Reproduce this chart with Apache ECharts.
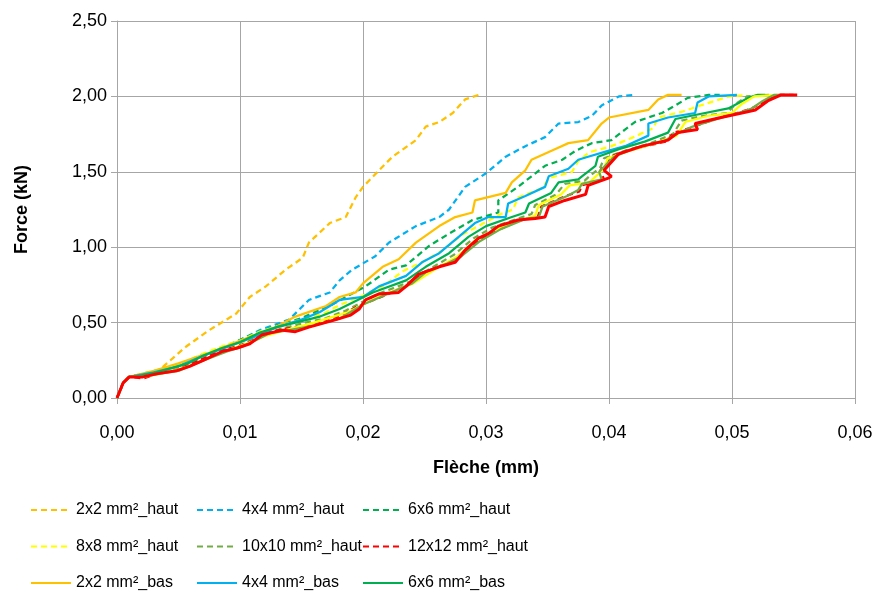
<!DOCTYPE html>
<html>
<head>
<meta charset="utf-8">
<script src="https://cdn.jsdelivr.net/npm/echarts@6/dist/echarts.min.js"></script>
<style>html,body{margin:0;padding:0;background:#fff;}#c{width:880px;height:596px;}</style>
</head>
<body>
<div id="c"></div>
<script>
// ---- data (Flèche mm, Force kN) ----
const xTicks = [0, 0.01, 0.02, 0.03, 0.04, 0.05, 0.06];
const yTicks = [0, 0.5, 1.0, 1.5, 2.0, 2.5];

const haut2x2 = [[0,0],[0.0005,0.10],[0.0010,0.14],[0.0035,0.19],[0.0056,0.34],[0.0075,0.45],[0.0097,0.56],[0.0108,0.67],[0.0121,0.74],[0.0137,0.85],[0.0151,0.93],[0.0156,1.03],[0.0173,1.16],[0.0186,1.20],[0.0194,1.33],[0.0200,1.40],[0.0213,1.51],[0.0224,1.60],[0.0243,1.71],[0.0251,1.80],[0.0262,1.83],[0.0273,1.89],[0.0283,1.98],[0.0294,2.01]];
const haut4x4 = [[0,0],[0.0005,0.10],[0.0010,0.14],[0.0035,0.18],[0.0062,0.25],[0.0089,0.34],[0.0116,0.45],[0.0140,0.52],[0.0156,0.65],[0.0173,0.70],[0.0181,0.78],[0.0191,0.85],[0.0210,0.94],[0.0221,1.03],[0.0243,1.14],[0.0262,1.20],[0.0270,1.25],[0.0283,1.40],[0.0300,1.49],[0.0316,1.60],[0.0332,1.67],[0.0348,1.73],[0.0359,1.82],[0.0375,1.83],[0.0386,1.87],[0.0394,1.94],[0.0408,2.00],[0.0420,2.01]];
const haut6x6 = [[0,0],[0.0005,0.10],[0.0010,0.14],[0.0030,0.17],[0.0050,0.22],[0.0070,0.29],[0.0090,0.35],[0.0110,0.42],[0.0130,0.48],[0.0150,0.53],[0.0175,0.62],[0.0202,0.74],[0.0221,0.85],[0.0235,0.88],[0.0254,1.01],[0.0270,1.09],[0.0289,1.18],[0.0310,1.23],[0.0310,1.31],[0.0326,1.40],[0.0337,1.47],[0.0348,1.54],[0.0362,1.58],[0.0373,1.64],[0.0386,1.69],[0.0402,1.71],[0.0413,1.78],[0.0421,1.83],[0.0443,1.89],[0.0454,1.94],[0.0464,1.99],[0.0481,2.01],[0.0490,2.01]];
const haut8x8 = [[0,0],[0.0005,0.10],[0.0010,0.14],[0.0020,0.15],[0.0033,0.18],[0.0046,0.21],[0.0058,0.25],[0.0072,0.30],[0.0088,0.35],[0.0100,0.38],[0.0116,0.44],[0.0132,0.48],[0.0150,0.52],[0.0168,0.56],[0.0182,0.62],[0.0200,0.68],[0.0218,0.75],[0.0232,0.84],[0.0248,0.90],[0.0265,0.98],[0.0280,1.08],[0.0296,1.15],[0.0312,1.22],[0.0322,1.25],[0.0326,1.33],[0.0345,1.39],[0.0352,1.46],[0.0370,1.50],[0.0375,1.57],[0.0384,1.63],[0.0402,1.67],[0.0420,1.73],[0.0436,1.79],[0.0440,1.86],[0.0460,1.90],[0.0478,1.95],[0.0498,2.00],[0.0512,2.01]];
const haut10x10 = [[0,0],[0.0005,0.10],[0.0010,0.14],[0.0021,0.14],[0.0034,0.17],[0.0048,0.19],[0.0060,0.23],[0.0073,0.27],[0.0089,0.32],[0.0103,0.36],[0.0118,0.42],[0.0134,0.46],[0.0153,0.50],[0.0170,0.53],[0.0186,0.58],[0.0212,0.69],[0.0238,0.77],[0.0255,0.86],[0.0274,0.95],[0.0290,1.06],[0.0305,1.13],[0.0326,1.19],[0.0337,1.22],[0.0340,1.28],[0.0357,1.35],[0.0364,1.42],[0.0380,1.44],[0.0384,1.47],[0.0393,1.53],[0.0396,1.59],[0.0413,1.64],[0.0434,1.69],[0.0452,1.75],[0.0459,1.84],[0.0476,1.87],[0.0496,1.89],[0.0503,1.95],[0.0512,2.00],[0.0530,2.01]];
const haut12x12 = [[0,0],[0.0005,0.10],[0.0010,0.14],[0.0022,0.13],[0.0032,0.16],[0.0047,0.18],[0.0058,0.22],[0.0070,0.26],[0.0085,0.32],[0.0098,0.34],[0.0110,0.38],[0.0120,0.43],[0.0137,0.46],[0.0158,0.48],[0.0178,0.53],[0.0196,0.61],[0.0218,0.68],[0.0236,0.75],[0.0248,0.83],[0.0264,0.88],[0.0277,0.92],[0.0290,1.02],[0.0306,1.10],[0.0328,1.18],[0.0342,1.20],[0.0345,1.27],[0.0365,1.34],[0.0376,1.37],[0.0378,1.41],[0.0396,1.45],[0.0393,1.51],[0.0404,1.61],[0.0424,1.66],[0.0446,1.70],[0.0453,1.76],[0.0466,1.79],[0.0486,1.85],[0.0504,1.89],[0.0516,1.92],[0.0527,1.97],[0.0538,2.01],[0.0550,2.01]];
const bas2x2 = [[0,0],[0.0005,0.10],[0.0010,0.14],[0.0030,0.18],[0.0050,0.23],[0.0075,0.30],[0.0100,0.38],[0.0129,0.47],[0.0145,0.54],[0.0170,0.61],[0.0181,0.67],[0.0194,0.70],[0.0200,0.76],[0.0216,0.87],[0.0229,0.92],[0.0243,1.03],[0.0262,1.14],[0.0275,1.20],[0.0289,1.23],[0.0291,1.31],[0.0316,1.36],[0.0321,1.43],[0.0332,1.51],[0.0337,1.58],[0.0356,1.65],[0.0367,1.69],[0.0383,1.71],[0.0394,1.82],[0.0400,1.86],[0.0432,1.91],[0.0440,1.98],[0.0448,2.01],[0.0459,2.01]];
const bas4x4 = [[0,0],[0.0005,0.10],[0.0010,0.14],[0.0030,0.17],[0.0050,0.21],[0.0070,0.28],[0.0090,0.34],[0.0110,0.40],[0.0130,0.47],[0.0150,0.52],[0.0165,0.57],[0.0181,0.65],[0.0200,0.67],[0.0213,0.74],[0.0235,0.81],[0.0248,0.90],[0.0262,0.96],[0.0278,1.07],[0.0291,1.16],[0.0302,1.20],[0.0316,1.20],[0.0318,1.29],[0.0332,1.34],[0.0348,1.40],[0.0351,1.47],[0.0367,1.52],[0.0375,1.58],[0.0383,1.60],[0.0400,1.64],[0.0413,1.67],[0.0432,1.74],[0.0432,1.82],[0.0448,1.86],[0.0470,1.89],[0.0472,1.96],[0.0481,2.00],[0.0504,2.01]];
const bas6x6 = [[0,0],[0.0005,0.10],[0.0010,0.14],[0.0020,0.15],[0.0032,0.17],[0.0045,0.20],[0.0058,0.23],[0.0070,0.28],[0.0085,0.33],[0.0100,0.37],[0.0115,0.43],[0.0130,0.47],[0.0150,0.51],[0.0165,0.54],[0.0181,0.59],[0.0208,0.70],[0.0235,0.78],[0.0251,0.87],[0.0270,0.96],[0.0286,1.07],[0.0300,1.14],[0.0321,1.20],[0.0332,1.23],[0.0335,1.29],[0.0353,1.36],[0.0359,1.43],[0.0375,1.45],[0.0378,1.47],[0.0389,1.54],[0.0391,1.60],[0.0408,1.65],[0.0429,1.70],[0.0448,1.76],[0.0454,1.85],[0.0472,1.88],[0.0497,1.92],[0.0513,1.99],[0.0521,2.01],[0.0527,2.01]];
const bas8x8 = [[0,0],[0.0005,0.10],[0.0010,0.14],[0.0021,0.14],[0.0035,0.16],[0.0050,0.19],[0.0062,0.22],[0.0076,0.27],[0.0091,0.32],[0.0105,0.36],[0.0120,0.41],[0.0137,0.45],[0.0156,0.49],[0.0172,0.53],[0.0188,0.57],[0.0215,0.68],[0.0241,0.76],[0.0258,0.85],[0.0277,0.94],[0.0292,1.05],[0.0308,1.12],[0.0329,1.18],[0.0340,1.21],[0.0343,1.28],[0.0361,1.35],[0.0368,1.41],[0.0384,1.43],[0.0388,1.46],[0.0396,1.52],[0.0399,1.59],[0.0417,1.64],[0.0438,1.69],[0.0455,1.74],[0.0462,1.83],[0.0480,1.87],[0.0500,1.89],[0.0508,1.95],[0.0518,2.00],[0.0537,2.01]];
const bas10x10 = [[0,0],[0.0005,0.10],[0.0010,0.14],[0.0021,0.14],[0.0034,0.16],[0.0050,0.18],[0.0062,0.22],[0.0074,0.26],[0.0090,0.31],[0.0102,0.34],[0.0112,0.38],[0.0124,0.43],[0.0140,0.45],[0.0160,0.48],[0.0182,0.53],[0.0200,0.62],[0.0220,0.69],[0.0240,0.76],[0.0252,0.84],[0.0268,0.89],[0.0280,0.94],[0.0295,1.04],[0.0312,1.12],[0.0333,1.19],[0.0343,1.20],[0.0346,1.27],[0.0366,1.34],[0.0375,1.38],[0.0378,1.42],[0.0394,1.45],[0.0392,1.50],[0.0404,1.60],[0.0422,1.66],[0.0444,1.70],[0.0455,1.75],[0.0468,1.80],[0.0488,1.85],[0.0505,1.89],[0.0516,1.92],[0.0525,1.97],[0.0534,2.01],[0.0546,2.01]];
const bas12x12 = [[0,0],[0.0005,0.10],[0.0010,0.14],[0.0021,0.14],[0.0032,0.16],[0.0048,0.18],[0.0059,0.21],[0.0070,0.25],[0.0086,0.31],[0.0097,0.33],[0.0108,0.36],[0.0118,0.42],[0.0135,0.45],[0.0145,0.44],[0.0156,0.47],[0.0178,0.52],[0.0190,0.55],[0.0197,0.59],[0.0202,0.65],[0.0213,0.69],[0.0229,0.70],[0.0235,0.74],[0.0245,0.82],[0.0262,0.87],[0.0275,0.90],[0.0283,0.98],[0.0294,1.06],[0.0302,1.09],[0.0310,1.14],[0.0326,1.18],[0.0340,1.19],[0.0348,1.20],[0.0351,1.27],[0.0364,1.31],[0.0381,1.35],[0.0383,1.41],[0.0400,1.46],[0.0402,1.47],[0.0396,1.51],[0.0408,1.62],[0.0427,1.67],[0.0448,1.71],[0.0456,1.76],[0.0472,1.78],[0.0470,1.82],[0.0491,1.86],[0.0508,1.89],[0.0519,1.91],[0.0529,1.97],[0.0540,2.01],[0.0553,2.01]];

const names = ['2x2 mm²_haut','4x4 mm²_haut','6x6 mm²_haut','8x8 mm²_haut','10x10 mm²_haut','12x12 mm²_haut','2x2 mm²_bas','4x4 mm²_bas','6x6 mm²_bas','8x8 mm²_bas','10x10 mm²_bas','12x12 mm²_bas'];
const colors = ['#FFC000','#00B0F0','#00B050','#FFFF00','#70AD47','#FF0000','#FFC000','#00B0F0','#00B050','#FFFF00','#70AD47','#FF0000'];
const seriesData = [haut2x2,haut4x4,haut6x6,haut8x8,haut10x10,haut12x12,bas2x2,bas4x4,bas6x6,bas8x8,bas10x10,bas12x12];

const fmt = v => Number(v).toFixed(2).replace('.', ',');
const FONT = 'Liberation Sans';

const series = seriesData.map((d, i) => ({
  name: names[i],
  type: 'line',
  data: d,
  showSymbol: false,
  symbol: 'none',
  smooth: false,
  animation: false,
  z: i === 11 ? 5 : 2,
  lineStyle: {
    color: colors[i],
    width: i === 11 ? 3 : 2.25,
    type: i < 6 ? [6, 4] : 'solid'
  },
  itemStyle: { color: colors[i] }
}));

const legendCols = [[0,3,6],[1,4,7],[2,5,8]];
const legendLeft = [30, 196, 362];
const legends = legendCols.map((idx, c) => ({
  orient: 'vertical',
  left: legendLeft[c],
  top: 502,
  itemGap: 20.5,
  itemWidth: 40,
  itemHeight: 18,
  padding: 0,
  data: idx.map(k => names[k]),
  itemStyle: { opacity: 0 },
  textStyle: { fontFamily: FONT, fontSize: 16, color: '#000', padding: [0,0,0,0] },
  selectedMode: false
}));

const chart = echarts.init(document.getElementById('c'), null, { renderer: 'canvas' });
chart.setOption({
  backgroundColor: '#fff',
  animation: false,
  grid: { left: 117, right: 25, top: 21, bottom: 198, containLabel: false },
  legend: legends,
  xAxis: {
    type: 'value', min: xTicks[0], max: xTicks[xTicks.length - 1], interval: 0.01,
    name: 'Flèche (mm)', nameLocation: 'middle', nameGap: 61,
    nameTextStyle: { fontFamily: FONT, fontSize: 18, fontWeight: 'bold', color: '#000' },
    axisLine: { show: true, lineStyle: { color: '#a6a6a6', width: 1 } },
    axisTick: { show: true, length: 6, lineStyle: { color: '#a6a6a6' } },
    splitLine: { show: true, lineStyle: { color: '#a6a6a6', width: 1 } },
    axisLabel: { formatter: fmt, margin: 26, fontFamily: FONT, fontSize: 18, color: '#000' }
  },
  yAxis: {
    type: 'value', min: yTicks[0], max: yTicks[yTicks.length - 1], interval: 0.5,
    name: 'Force (kN)', nameLocation: 'middle', nameGap: 86,
    nameTextStyle: { fontFamily: FONT, fontSize: 18, fontWeight: 'bold', color: '#000' },
    axisLine: { show: true, lineStyle: { color: '#a6a6a6', width: 1 } },
    axisTick: { show: true, length: 6, lineStyle: { color: '#a6a6a6' } },
    splitLine: { show: true, lineStyle: { color: '#a6a6a6', width: 1 } },
    axisLabel: { formatter: fmt, margin: 10, fontFamily: FONT, fontSize: 18, color: '#000' }
  },
  series: series
});
</script>
</body>
</html>
